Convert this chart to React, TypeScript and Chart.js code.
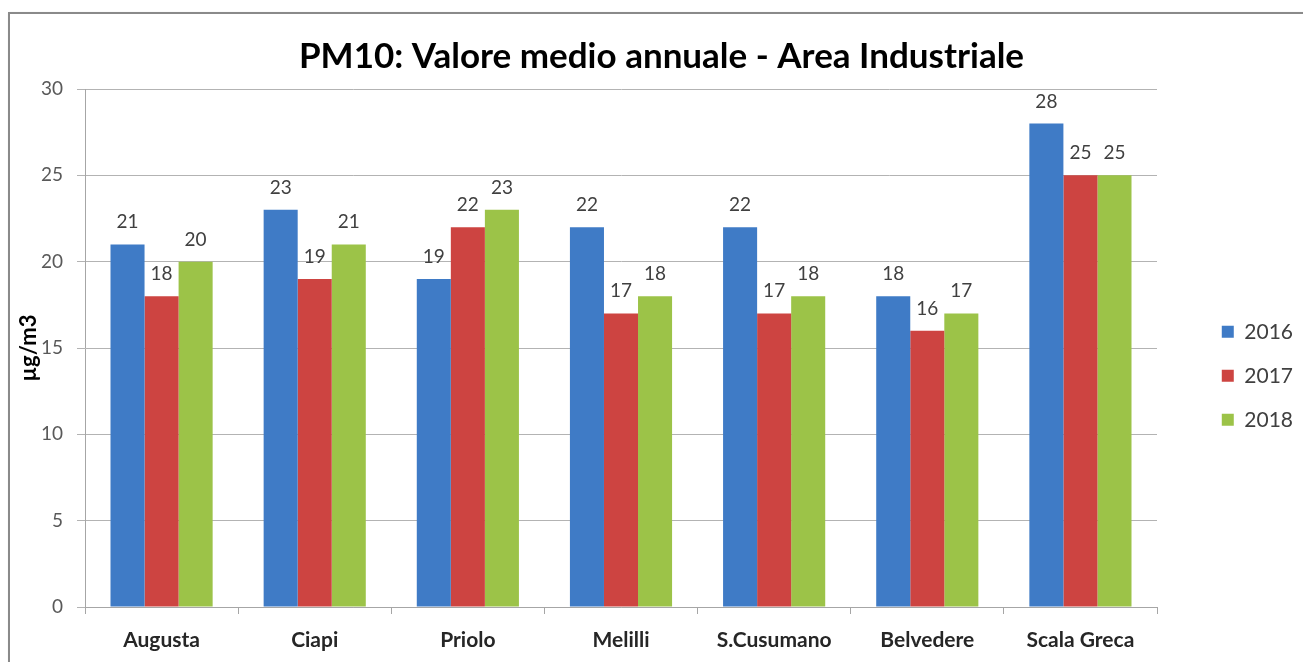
import React, { useEffect, useRef } from 'react';
import { Chart, registerables } from 'chart.js';

Chart.register(...registerables);

const categories = ['Augusta', 'Ciapi', 'Priolo', 'Melilli', 'S.Cusumano', 'Belvedere', 'Scala Greca'];
const seriesLabels = ['2016', '2017', '2018'];
const values2016 = [21, 23, 19, 22, 22, 18, 28];
const values2017 = [18, 19, 22, 17, 17, 16, 25];
const values2018 = [20, 21, 23, 18, 18, 17, 25];
const seriesColors = ['#3f7bc6', '#cd4441', '#9cc348'];
const chartTitle = 'PM10: Valore medio annuale - Area Industriale';
const yAxisTitle = 'µg/m3';
const yMin = 0;
const yMax = 30;
const yStep = 5;

const FONT = 'Lato';
const PLOT_RIGHT = 1157;
const CANVAS_W = 1303;

const valueLabelPlugin = {
  id: 'valueLabels',
  afterDatasetsDraw(chart: any) {
    const ctx = chart.ctx;
    ctx.save();
    ctx.font = `19px ${FONT}`;
    ctx.fillStyle = '#404040';
    ctx.textAlign = 'center';
    ctx.textBaseline = 'alphabetic';
    chart.data.datasets.forEach((ds: any, i: number) => {
      const meta = chart.getDatasetMeta(i);
      meta.data.forEach((el: any, j: number) => {
        ctx.fillText(String(ds.data[j]), el.x, el.y - 16);
      });
    });
    ctx.restore();
  },
};

export default function App() {
  const canvasRef = useRef<HTMLCanvasElement | null>(null);

  useEffect(() => {
    if (!canvasRef.current) return;
    const seriesData = [values2016, values2017, values2018];
    const chart = new Chart(canvasRef.current, {
      type: 'bar',
      data: {
        labels: categories,
        datasets: seriesLabels.map((label, i) => ({
          label,
          data: seriesData[i],
          backgroundColor: seriesColors[i],
          borderWidth: 0,
          yAxisID: 'y',
          categoryPercentage: 0.667,
          barPercentage: 1,
        })),
      },
      options: {
        responsive: false,
        animation: false,
        devicePixelRatio: 1,
        layout: { padding: { left: 20, right: 0, top: 0, bottom: 0 } },
        plugins: {
          tooltip: { enabled: false },
          title: {
            display: true,
            text: chartTitle,
            color: '#000000',
            font: { family: FONT, size: 35, weight: 'bold' },
            padding: { top: 36, bottom: 11 },
          },
          legend: {
            display: true,
            position: 'right',
            align: 'center',
            fullSize: true,
            title: { display: true, text: '', padding: { top: 80, bottom: 0 }, font: { size: 8 } },
            labels: {
              boxWidth: 12,
              boxHeight: 12,
              padding: 23,
              color: '#404040',
              font: { family: FONT, size: 21 },
            },
          },
        },
        scales: {
          x: {
            grid: {
              display: true,
              drawOnChartArea: false,
              drawTicks: true,
              tickLength: 7,
              color: '#a6a6a6',
            },
            border: { display: true, color: '#a6a6a6' },
            ticks: {
              color: '#262626',
              padding: 14,
              font: { family: FONT, size: 21, weight: 'bold' },
            },
            afterFit: (scale: any) => {
              scale.height = 55;
            },
          },
          y: {
            position: 'left',
            min: yMin,
            max: yMax,
            ticks: {
              stepSize: yStep,
              color: '#595959',
              padding: 14,
              font: { family: FONT, size: 19 },
            },
            grid: { color: '#b3b3b3', tickLength: 8, drawTicks: true },
            border: { display: true, color: '#a6a6a6' },
            title: {
              display: true,
              text: yAxisTitle,
              color: '#000000',
              font: { family: FONT, size: 22, weight: 'bold' },
              padding: { top: -4, bottom: 0 },
            },
            afterFit: (scale: any) => {
              scale.width = 65;
            },
          },
          spacer: {
            type: 'linear',
            position: 'right',
            display: true,
            grid: { display: false },
            border: { display: false },
            ticks: { display: false },
            afterFit: (scale: any) => {
              const lw = scale.chart.legend ? scale.chart.legend.width : 0;
              scale.width = Math.max(0, CANVAS_W - PLOT_RIGHT - lw);
            },
          },
        },
      },
      plugins: [valueLabelPlugin],
    } as any);
    return () => chart.destroy();
  }, []);

  return (
    <div
      style={{
        position: 'absolute',
        left: 0,
        top: 0,
        width: 1303,
        height: 662,
        overflow: 'hidden',
        background: '#ffffff',
      }}
    >
      <div
        style={{
          position: 'absolute',
          left: 8,
          top: 12,
          width: 1400,
          height: 800,
          border: '2px solid #8a8a8a',
          boxShadow: '1px 1px 2px rgba(0,0,0,0.25)',
        }}
      />
      <canvas
        ref={canvasRef}
        width={1303}
        height={662}
        style={{ position: 'absolute', left: 0, top: 0, width: 1303, height: 662 }}
      />
    </div>
  );
}
